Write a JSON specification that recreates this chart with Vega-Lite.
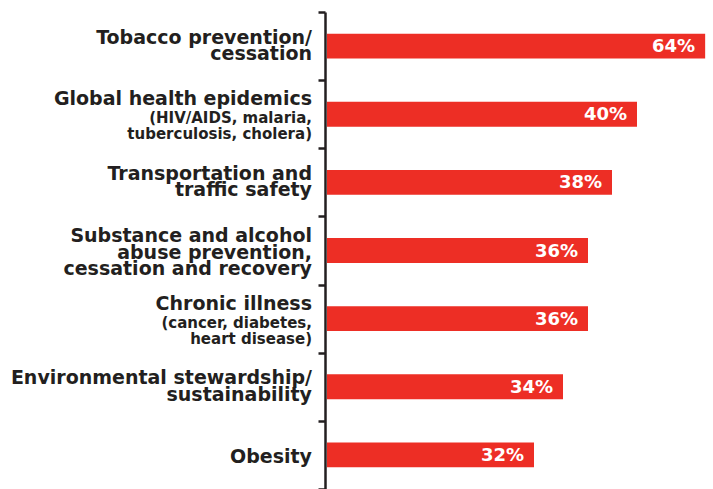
{
  "$schema": "https://vega.github.io/schema/vega-lite/v6.json",
  "autosize": "none",
  "width": 386,
  "height": 477,
  "padding": {"left": 327, "top": 12, "right": 0, "bottom": 0},
  "background": "white",
  "config": {"view": {"stroke": null}, "font": "DejaVu Sans"},
  "data": {
    "values": [
      {"cat": "Tobacco", "label": ["Tobacco prevention/", "cessation"], "sub": null, "value": 0.64},
      {"cat": "Global", "label": ["Global health epidemics"], "sub": ["(HIV/AIDS, malaria,", "tuberculosis, cholera)"], "value": 0.40},
      {"cat": "Transportation", "label": ["Transportation and", "traffic safety"], "sub": null, "value": 0.38},
      {"cat": "Substance", "label": ["Substance and alcohol", "abuse prevention,", "cessation and recovery"], "sub": null, "value": 0.36},
      {"cat": "Chronic", "label": ["Chronic illness"], "sub": ["(cancer, diabetes,", "heart disease)"], "value": 0.36},
      {"cat": "Environmental", "label": ["Environmental stewardship/", "sustainability"], "sub": null, "value": 0.34},
      {"cat": "Obesity", "label": ["Obesity"], "sub": null, "value": 0.32}
    ]
  },
  "encoding": {
    "y": {
      "field": "cat",
      "type": "nominal",
      "sort": null,
      "scale": {"paddingInner": 0, "paddingOuter": 0},
      "axis": {
        "title": null,
        "labels": false,
        "grid": false,
        "tickBand": "extent",
        "domainColor": "#231f20",
        "domainWidth": 2.5,
        "tickColor": "#231f20",
        "tickWidth": 2.5,
        "tickSize": 7,
        "offset": 2
      }
    }
  },
  "layer": [
    {
      "mark": {"type": "bar", "color": "#ED2E25", "height": {"band": 0.365}},
      "encoding": {
        "x": {
          "field": "value",
          "type": "quantitative",
          "scale": {"domain": [0, 0.32, 0.34, 0.36, 0.38, 0.40, 0.64], "range": [0, 207, 236, 261, 285, 310, 381]},
          "axis": null
        }
      }
    },
    {
      "mark": {"type": "text", "color": "white", "font": "DejaVu Sans", "fontWeight": "bold", "fontSize": 18, "align": "right", "baseline": "middle", "dx": -10, "dy": 1},
      "encoding": {
        "x": {"field": "value", "type": "quantitative"},
        "text": {"field": "value", "type": "quantitative", "format": ".0%"}
      }
    },
    {
      "transform": [{"filter": "datum.sub == null && length(datum.label) == 1"}],
      "mark": {"type": "text", "color": "#231f20", "font": "DejaVu Sans", "fontWeight": "bold", "fontSize": 19, "align": "right", "baseline": "alphabetic", "dx": -15, "dy": 8},
      "encoding": {
        "x": {"datum": 0, "type": "quantitative"},
        "text": {"field": "label"}
      }
    },
    {
      "transform": [{"filter": "datum.sub == null && length(datum.label) == 2"}],
      "mark": {"type": "text", "color": "#231f20", "font": "DejaVu Sans", "fontWeight": "bold", "fontSize": 19, "align": "right", "baseline": "alphabetic", "lineHeight": 16.5, "dx": -15, "dy": -2.5},
      "encoding": {
        "x": {"datum": 0, "type": "quantitative"},
        "text": {"field": "label"}
      }
    },
    {
      "transform": [{"filter": "datum.sub == null && length(datum.label) == 3"}],
      "mark": {"type": "text", "color": "#231f20", "font": "DejaVu Sans", "fontWeight": "bold", "fontSize": 19, "align": "right", "baseline": "alphabetic", "lineHeight": 16.7, "dx": -15, "dy": -8.5},
      "encoding": {
        "x": {"datum": 0, "type": "quantitative"},
        "text": {"field": "label"}
      }
    },
    {
      "transform": [{"filter": "datum.sub != null"}],
      "mark": {"type": "text", "color": "#231f20", "font": "DejaVu Sans", "fontWeight": "bold", "fontSize": 19, "align": "right", "baseline": "alphabetic", "dx": -15, "dy": -9},
      "encoding": {
        "x": {"datum": 0, "type": "quantitative"},
        "text": {"field": "label"}
      }
    },
    {
      "transform": [{"filter": "datum.sub != null"}],
      "mark": {"type": "text", "color": "#231f20", "font": "DejaVu Sans", "fontWeight": "bold", "fontSize": 15, "align": "right", "baseline": "alphabetic", "lineHeight": 16, "dx": -15, "dy": 9},
      "encoding": {
        "x": {"datum": 0, "type": "quantitative"},
        "text": {"field": "sub"}
      }
    }
  ]
}
